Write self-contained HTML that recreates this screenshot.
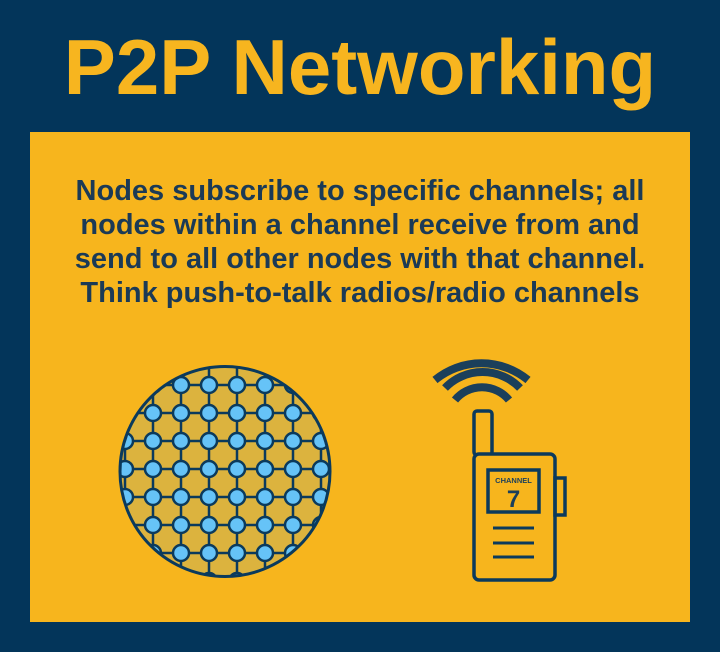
<!DOCTYPE html>
<html><head><style>
body{margin:0;width:720px;height:652px;background:#03355a;font-family:"Liberation Sans",sans-serif;overflow:hidden;position:relative}
</style></head><body>
<svg width="720" height="652" style="position:absolute;left:0;top:0">
<defs><clipPath id="c"><circle cx="225" cy="471.5" r="105"/></clipPath></defs>
<text x="360" y="94" text-anchor="middle" font-family="Liberation Sans" font-weight="bold" font-size="78" fill="#f7b51f">P2P Networking</text>
<rect x="30" y="132" width="660" height="490" fill="#f7b51d"/>
<g font-family="Liberation Sans" font-weight="bold" font-size="29" fill="#1b3a56" text-anchor="middle">
<text x="360" y="200">Nodes subscribe to specific channels; all</text>
<text x="360" y="234">nodes within a channel receive from and</text>
<text x="360" y="268">send to all other nodes with that channel.</text>
<text x="360" y="302">Think push-to-talk radios/radio channels</text>
</g>
<circle cx="225" cy="471.5" r="105" fill="#dcb33e"/>
<g clip-path="url(#c)" stroke="#0b3a5c" stroke-width="2.5">
<g id="grid"></g>
</g>
<circle cx="225" cy="471.5" r="105" fill="none" stroke="#0b3a5c" stroke-width="3"/>
<g fill="none" stroke="#1b3f5b" stroke-width="8" stroke-linecap="butt">
<path d="M435 380 A73 73 0 0 1 528 380"/>
<path d="M445 388 A52 52 0 0 1 520 388"/>
<path d="M455 400 A35 35 0 0 1 509 400"/>
</g>
<g fill="none" stroke="#0b3a5c" stroke-width="3.5">
<rect x="474" y="411" width="18" height="44" rx="3"/>
<rect x="474" y="454" width="81" height="126" rx="5" fill="#f7b51d"/>
<rect x="555" y="478" width="10" height="37"/>
<rect x="488" y="470" width="51" height="42"/>
<path d="M493 528H534M493 543H534M493 557H534" stroke-width="3"/>
</g>
<text x="513.5" y="483" text-anchor="middle" font-family="Liberation Sans" font-weight="bold" font-size="7.5" fill="#1b3f5b">CHANNEL</text>
<text x="513.5" y="507" text-anchor="middle" font-family="Liberation Sans" font-weight="bold" font-size="24" fill="#1b3f5b">7</text>
</svg>
<script>
var g=document.getElementById('grid'),s='';
for(var i=0;i<9;i++){var x=125+28*i;s+='<line x1="'+x+'" y1="360" x2="'+x+'" y2="590"/>';}
for(var j=0;j<9;j++){var y=357+28*j;s+='<line x1="110" y1="'+y+'" x2="340" y2="'+y+'"/>';}
for(var i=0;i<9;i++)for(var j=0;j<9;j++){s+='<circle cx="'+(125+28*i)+'" cy="'+(357+28*j)+'" r="8" fill="#66c3f7"/>';}
g.innerHTML=s;
</script>
</body></html>
